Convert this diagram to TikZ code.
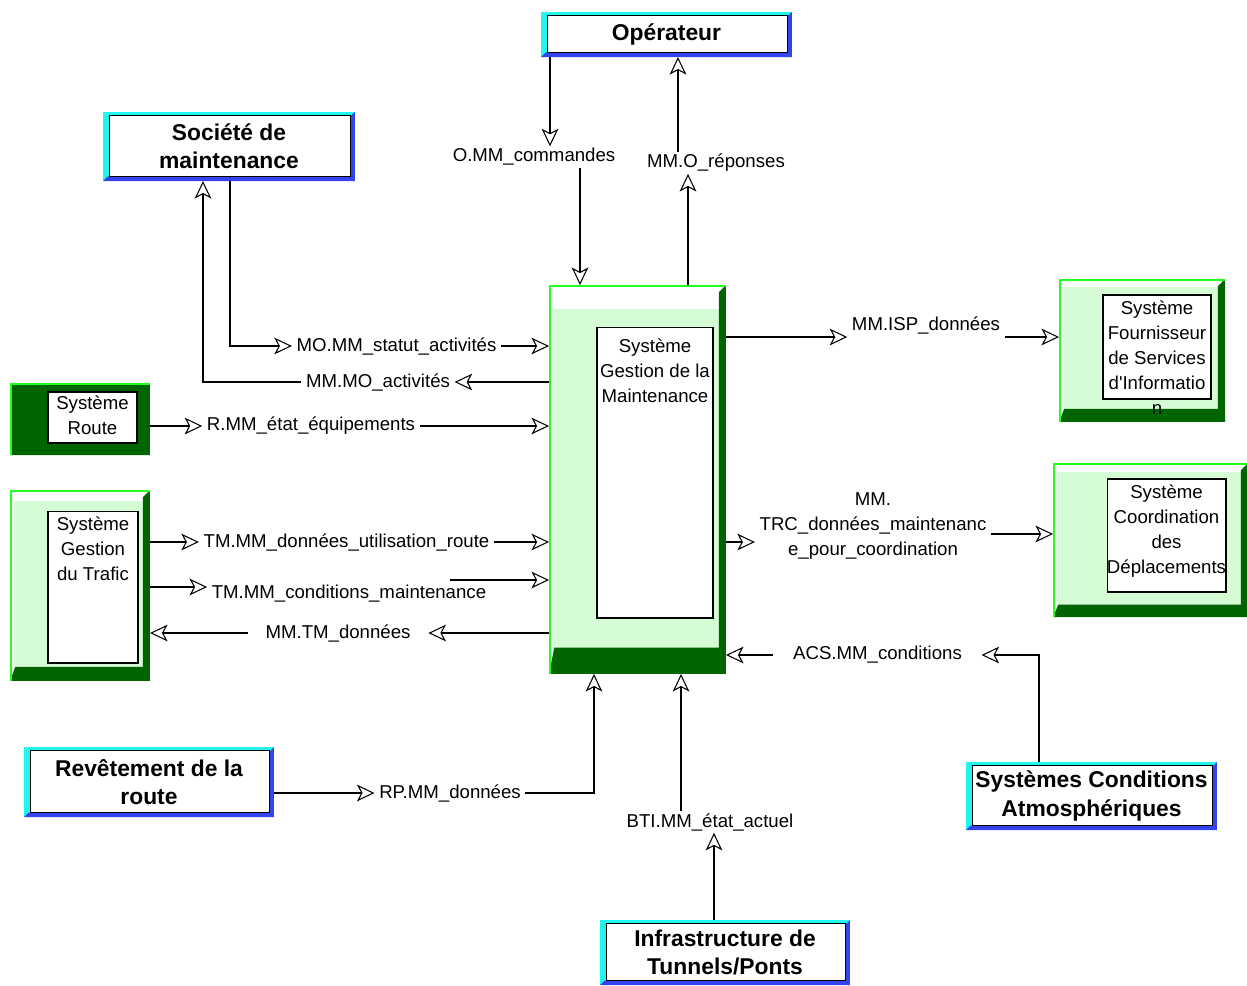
\documentclass[tikz,border=0pt]{standalone}
\usepackage{fontspec}
\setmainfont{Liberation Sans}
\usetikzlibrary{arrows.meta}

\definecolor{termcyan}{HTML}{22F5EE}
\definecolor{termblue}{HTML}{3344EE}
\definecolor{syslight}{HTML}{D6FCD6}
\definecolor{sysdark}{HTML}{006400}
\definecolor{sysbright}{HTML}{22FF22}

\newcommand*{\lblfont}{\fontsize{10.6}{14.2}\selectfont}
\newcommand*{\ttlfont}{\fontsize{13}{16}\selectfont\bfseries}

\begin{document}
\begin{tikzpicture}
[
	x=0.02cm, y=-0.02cm,
	gaptop/.store in=\gaptop, gapleft/.store in=\gapleft, bandbot/.store in=\bandbot,
	terminal/.style={fill=white, inner sep=0pt, outer sep=0pt, align=center, font=\ttlfont,
		path picture={
			\coordinate (pp-sw) at (path picture bounding box.south west);
			\coordinate (pp-ne) at (path picture bounding box.north east);
			\coordinate (pp-se) at (pp-sw -| pp-ne);
			\fill[termcyan] (pp-sw) rectangle (pp-ne);
			\fill[termblue] (pp-sw) -- (pp-se) -- (pp-ne) -- ([shift={(-2.5pt,-2.5pt)}]pp-ne)
				-- ([shift={(-2.5pt,2.5pt)}]pp-se) -- ([shift={(2.5pt,2.5pt)}]pp-sw) -- cycle;
			\filldraw[fill=white, draw=black, line width=0.5pt]
				([shift={(3.5pt,2.5pt)}]pp-sw) rectangle ([shift={(-2.5pt,-2.2pt)}]pp-ne);
		}},
	sysframe/.style={fill=syslight, inner sep=0pt, outer sep=0pt,
		gaptop=5.5pt, gapleft=2.5pt, bandbot=7.5pt,
		path picture={
			\coordinate (pp-sw) at (path picture bounding box.south west);
			\coordinate (pp-ne) at (path picture bounding box.north east);
			\coordinate (pp-se) at (pp-sw -| pp-ne);
			\coordinate (pp-nw) at (pp-sw |- pp-ne);
			\fill[white] (pp-nw) rectangle ([yshift=-\gaptop]pp-ne);
			\fill[white] (pp-nw) rectangle ([xshift=\gapleft]pp-sw);
			\fill[sysdark] (pp-sw) -- (pp-se) -- (pp-ne) -- ([shift={(-4pt,-4pt)}]pp-ne)
				-- ([shift={(-4pt,\bandbot)}]pp-se) -- ([shift={(3pt,\bandbot)}]pp-sw) -- cycle;
			\draw[sysbright, line width=2pt] (pp-sw) -- (pp-nw) -- (pp-ne);
		}},
	systext/.style={draw=black, fill=white, line width=0.6pt, inner sep=0pt, outer sep=0pt},
	sysname/.style={font=\lblfont, align=center, anchor=north, inner sep=3pt},
	flow/.style={font=\lblfont, inner xsep=2.5pt, inner ysep=1pt, align=center},
	link/.style={-{Stealth[open, length=10pt, width=9.5pt, inset=2.5pt]}, line width=0.6pt}
]

	\useasboundingbox (0,0) rectangle (1247,985);
	\fill[white] (0,0) rectangle (1247,985);

	% terminators
	\node[terminal, minimum width=5.02cm, minimum height=0.9cm] (oper) at (666.5,34.5) {Opérateur};
	\node[terminal, minimum width=5.04cm, minimum height=1.38cm] (soc) at (229,146.5) {Société de\\maintenance};
	\node[terminal, minimum width=5cm, minimum height=1.4cm] (rev) at (149,782) {Revêtement de la\\route};
	\node[terminal, minimum width=5cm, minimum height=1.3cm] (infra) at (725,952.5) {Infrastructure de\\Tunnels/Ponts};
	\node[terminal, minimum width=5.02cm, minimum height=1.36cm] (sca) at (1091.5,796) {Systèmes Conditions\\Atmosphériques};

	% systems
	\node[sysframe, fill=sysdark, gaptop=0.8pt, gapleft=0.8pt, minimum width=2.8cm, minimum height=1.44cm] (route) at (80,419) {};
	\node[systext, minimum width=1.78cm, minimum height=1.02cm,
		label={[sysname, inner sep=2pt]north:{Système\\Route}}] (route-in) at (92.5,417.5) {};

	\node[sysframe, gaptop=6.5pt, bandbot=8pt, minimum width=2.8cm, minimum height=3.82cm] (traf) at (80,585.5) {};
	\node[systext, minimum width=1.8cm, minimum height=3.04cm,
		label={[sysname]north:{Système\\Gestion\\du Trafic}}] (traf-in) at (93,587) {};

	\node[sysframe, gaptop=13.5pt, bandbot=15pt, minimum width=3.54cm, minimum height=7.78cm] (mm) at (637.5,479.5) {};
	\node[systext, minimum width=2.32cm, minimum height=5.82cm,
		label={[sysname, inner sep=6.5pt]north:{Système\\Gestion de la\\Maintenance}}] (mm-in) at (655,472.5) {};

	\node[sysframe, gaptop=4.5pt, bandbot=7.5pt, minimum width=3.32cm, minimum height=2.86cm] (fsp) at (1142,350.5) {};
	\node[systext, minimum width=2.16cm, minimum height=2.08cm,
		label={[sysname]north:{Système\\Fournisseur\\de Services\\d\textquotesingle Informatio\\n}}] (fsp-in) at (1157,347) {};

	\node[sysframe, gaptop=5pt, bandbot=7pt, minimum width=3.9cm, minimum height=3.08cm] (trc) at (1150.5,540) {};
	\node[systext, minimum width=2.38cm, minimum height=2.26cm,
		label={[sysname]north:{Système\\Coordination\\des\\Déplacements}}] (trc-in) at (1166.5,535.5) {};

	% flows with the operator
	\coordinate (omm-a) at (550,0);
	\coordinate (omm-b) at (580,0);
	\node[flow] (omm) at (534,157) {O.MM\_commandes};
	\draw[link] (oper.south -| omm-a) -- (omm.north -| omm-a);
	\draw[link] (omm.south -| omm-b) -- (mm.north -| omm-b);

	\coordinate (mmo-a) at (688,0);
	\coordinate (mmo-b) at (678,0);
	\node[flow] (mmo) at (716,163) {MM.O\_réponses};
	\draw[link] (mm.north -| mmo-a) -- (mmo.south -| mmo-a);
	\draw[link] (mmo.north -| mmo-b) -- (oper.south -| mmo-b);

	% flows with maintenance
	\coordinate (mos-a) at (230,0);
	\node[flow] (mos) at (396.5,346) {MO.MM\_statut\_activités};
	\draw[link] (soc.south -| mos-a) |- (mos.west);
	\draw[link] (mos.east) -- (mos.east -| mm.west);

	\coordinate (mma-a) at (203,0);
	\node[flow] (mma) at (378,382) {MM.MO\_activités};
	\draw[link] (mm.west |- mma.east) -- (mma.east);
	\draw[link] (mma.west) -| (soc.south -| mma-a);

	% flows with road and traffic
	\node[flow] (rme) at (311,426) {R.MM\_état\_équipements};
	\draw[link] (route.east |- rme.west) -- (rme.west);
	\draw[link] (rme.east) -- (rme.east -| mm.west);

	\node[flow] (tmu) at (346.5,542) {TM.MM\_données\_utilisation\_route};
	\draw[link] (traf.east |- tmu.west) -- (tmu.west);
	\draw[link] (tmu.east) -- (tmu.east -| mm.west);

	\coordinate (tmc-a) at (0,587);
	\coordinate (tmc-b) at (450,580);
	\node[flow] (tmc) at (349,594) {TM.MM\_conditions\_maintenance};
	\draw[link] (traf.east |- tmc-a) -- (tmc.west |- tmc-a);
	\draw[link] (tmc-b) -- (tmc-b -| mm.west);

	\node[flow, inner xsep=10pt] (mmt) at (338,633) {MM.TM\_données};
	\draw[link] (mm.west |- mmt.east) -- (mmt.east);
	\draw[link] (mmt.west) -- (mmt.west -| traf.east);

	% flows on the right
	\coordinate (misp-a) at (0,337);
	\node[flow] (misp) at (926,325) {MM.ISP\_données};
	\draw[link] (mm.east |- misp-a) -- (misp.west |- misp-a);
	\draw[link] (misp.east |- misp-a) -- (fsp.west |- misp-a);

	\coordinate (mtrc-a) at (0,542);
	\coordinate (mtrc-b) at (0,534);
	\node[flow] (mtrc) at (873,526) {MM.\\TRC\_données\_maintenanc\\e\_pour\_coordination};
	\draw[link] (mm.east |- mtrc-a) -- (mtrc.west |- mtrc-a);
	\draw[link] (mtrc.east |- mtrc-b) -- (trc.west |- mtrc-b);

	\coordinate (acs-a) at (1039,0);
	\node[flow, inner xsep=11pt] (acs) at (877.5,655) {ACS.MM\_conditions};
	\draw[link] (sca.north -| acs-a) |- (acs.east);
	\draw[link] (acs.west) -- (acs.west -| mm.east);

	% flows from below
	\coordinate (rpm-a) at (594,0);
	\node[flow] (rpm) at (450,793) {RP.MM\_données};
	\draw[link] (rev.east |- rpm.west) -- (rpm.west);
	\draw[link] (rpm.east) -| (mm.south -| rpm-a);

	\coordinate (bti-a) at (714,0);
	\coordinate (bti-b) at (681,0);
	\node[flow] (bti) at (710,822) {BTI.MM\_état\_actuel};
	\draw[link] (infra.north -| bti-a) -- (bti.south -| bti-a);
	\draw[link] (bti.north -| bti-b) -- (mm.south -| bti-b);

\end{tikzpicture}
\end{document}
